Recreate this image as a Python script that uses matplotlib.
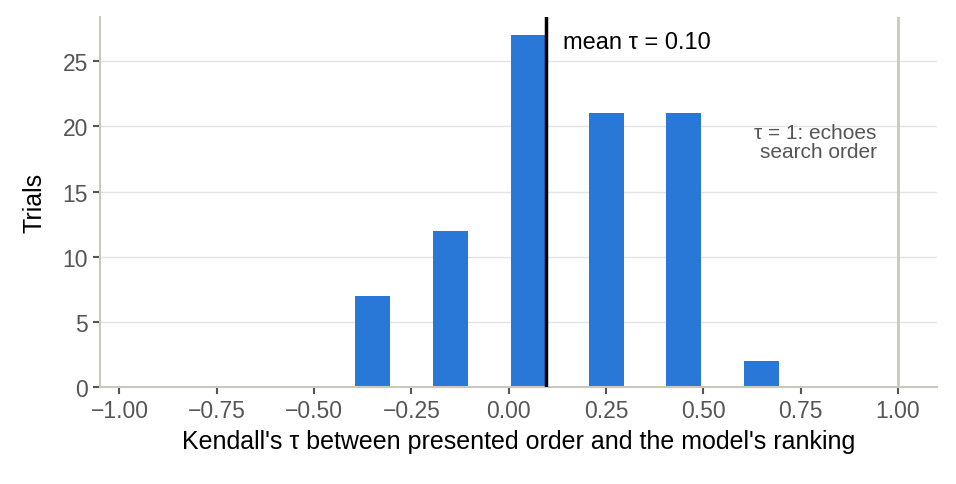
import matplotlib
matplotlib.use("Agg")
import matplotlib.pyplot as plt
import numpy as np

# Kendall tau values observed (5-item rankings) and number of trials per value
tau_values = np.array([-0.4, -0.2, 0.0, 0.2, 0.4, 0.6])
trial_counts = np.array([7, 12, 27, 21, 21, 2])
bin_width = 0.1
mean_tau = np.sum(tau_values * trial_counts) / trial_counts.sum()

x_ticks = [-1.0, -0.75, -0.5, -0.25, 0.0, 0.25, 0.5, 0.75, 1.0]
y_ticks = [0, 5, 10, 15, 20, 25]

plt.rcParams['font.family'] = ['Liberation Sans', 'DejaVu Sans']

fig = plt.figure(figsize=(9.56, 4.85), dpi=100)
ax = fig.add_axes([0.1046, 0.2, 0.8754, 0.763])

ax.bar(tau_values + bin_width / 2, trial_counts, width=bin_width * 0.9,
       color="#2978d8", zorder=2)
ax.axvline(mean_tau, color="black", lw=2.5, zorder=3)
ax.axvline(1.0, color="#c8c8bc", lw=2, zorder=1)

ax.text(0.14, 26.5, f"mean τ = {mean_tau:.2f}", fontsize=17, va="center", ha="left")
ax.text(0.945, 18.8, "τ = 1: echoes\nsearch order", fontsize=15, color="#555555",
        ha="right", va="center", linespacing=1.0)

ax.set_xlim(-1.05, 1.1)
ax.set_ylim(0, 28.4)
ax.set_xticks(x_ticks)
ax.set_yticks(y_ticks)
ax.set_xticklabels([f"{v:.2f}".replace("-", "\u2212") for v in x_ticks])
ax.yaxis.grid(True, color="#e3e3e3", lw=1, zorder=0)
ax.set_axisbelow(True)

for s in ["top", "right"]:
    ax.spines[s].set_visible(False)
for s in ["left", "bottom"]:
    ax.spines[s].set_color("#c8c8bc")
    ax.spines[s].set_linewidth(1.5)
ax.tick_params(colors="#555555", labelsize=16.5, length=5, width=1.5)

ax.set_xlabel("Kendall's τ between presented order and the model's ranking", fontsize=18, labelpad=5)
ax.set_ylabel("Trials", fontsize=18, labelpad=12)

fig.savefig("out.png", dpi=100)
